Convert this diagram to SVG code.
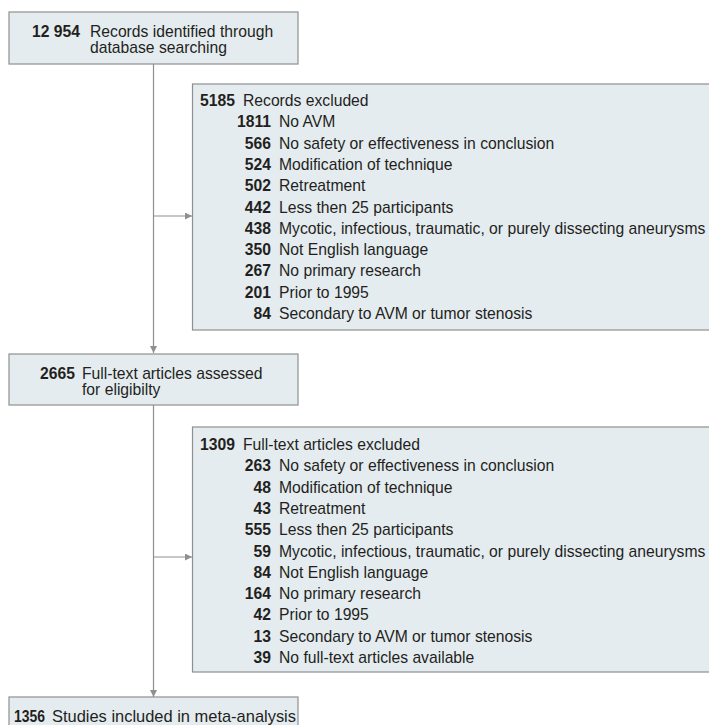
<svg xmlns="http://www.w3.org/2000/svg" width="709" height="725" viewBox="0 0 709 725">
<style>
.box{fill:#e5ecf0;stroke:#8f8f8f;stroke-width:1.2}
text{font-family:"Liberation Sans",Arial,sans-serif;font-size:15.7px;fill:#231f20}
.n{font-weight:bold}
.e{text-anchor:end;font-weight:bold}
.ln{fill:none;stroke:#8f8f8f;stroke-width:1.2}
</style>
<defs>
<marker id="ah" viewBox="0 0 10 10" refX="10" refY="5" markerWidth="7" markerHeight="7" markerUnits="userSpaceOnUse" orient="auto">
<path d="M0,0 L10,5 L0,10 z" fill="#8f8f8f"/>
</marker>
</defs>
<g id="connectors">
<path class="ln" d="M153.5,64 V353" marker-end="url(#ah)"/>
<path class="ln" d="M153.5,216 H192" marker-end="url(#ah)"/>
<path class="ln" d="M153.5,405 V697" marker-end="url(#ah)"/>
<path class="ln" d="M153.5,557 H192" marker-end="url(#ah)"/>
</g>
<g id="identified">
<rect class="box" x="9" y="12" width="289" height="52"/>
<text x="32" y="36.5"><tspan class="n">12 954</tspan></text>
<text x="90" y="36.5">Records identified through</text>
<text x="90" y="53">database searching</text>
</g>
<g id="excluded1">
<rect class="box" x="192.5" y="84" width="530" height="246"/>
<text class="e" x="235" y="106">5185</text><text x="243" y="106">Records excluded</text>
<text class="e" x="271" y="127.3">1811</text><text x="279" y="127.3">No AVM</text>
<text class="e" x="271" y="148.6">566</text><text x="279" y="148.6">No safety or effectiveness in conclusion</text>
<text class="e" x="271" y="169.9">524</text><text x="279" y="169.9">Modification of technique</text>
<text class="e" x="271" y="191.2">502</text><text x="279" y="191.2">Retreatment</text>
<text class="e" x="271" y="212.5">442</text><text x="279" y="212.5">Less then 25 participants</text>
<text class="e" x="271" y="233.8">438</text><text x="279" y="233.8">Mycotic, infectious, traumatic, or purely dissecting aneurysms</text>
<text class="e" x="271" y="255.1">350</text><text x="279" y="255.1">Not English language</text>
<text class="e" x="271" y="276.4">267</text><text x="279" y="276.4">No primary research</text>
<text class="e" x="271" y="297.7">201</text><text x="279" y="297.7">Prior to 1995</text>
<text class="e" x="271" y="319">84</text><text x="279" y="319">Secondary to AVM or tumor stenosis</text>
</g>
<g id="assessed">
<rect class="box" x="9" y="354" width="289" height="51"/>
<text x="40" y="378.5"><tspan class="n">2665</tspan></text>
<text x="82" y="378.5">Full-text articles assessed</text>
<text x="82" y="395">for eligibilty</text>
</g>
<g id="excluded2">
<rect class="box" x="192.5" y="427" width="530" height="245"/>
<text class="e" x="235" y="450">1309</text><text x="243" y="450">Full-text articles excluded</text>
<text class="e" x="271" y="471.3">263</text><text x="279" y="471.3">No safety or effectiveness in conclusion</text>
<text class="e" x="271" y="492.6">48</text><text x="279" y="492.6">Modification of technique</text>
<text class="e" x="271" y="513.9">43</text><text x="279" y="513.9">Retreatment</text>
<text class="e" x="271" y="535.2">555</text><text x="279" y="535.2">Less then 25 participants</text>
<text class="e" x="271" y="556.5">59</text><text x="279" y="556.5">Mycotic, infectious, traumatic, or purely dissecting aneurysms</text>
<text class="e" x="271" y="577.8">84</text><text x="279" y="577.8">Not English language</text>
<text class="e" x="271" y="599.1">164</text><text x="279" y="599.1">No primary research</text>
<text class="e" x="271" y="620.4">42</text><text x="279" y="620.4">Prior to 1995</text>
<text class="e" x="271" y="641.7">13</text><text x="279" y="641.7">Secondary to AVM or tumor stenosis</text>
<text class="e" x="271" y="663">39</text><text x="279" y="663">No full-text articles available</text>
</g>
<g id="included">
<rect class="box" x="9" y="697" width="289" height="40"/>
<text class="n" x="14" y="722" textLength="31" lengthAdjust="spacingAndGlyphs">1356</text>
<text x="52" y="722" textLength="244" lengthAdjust="spacingAndGlyphs">Studies included in meta-analysis</text>
</g>
</svg>
